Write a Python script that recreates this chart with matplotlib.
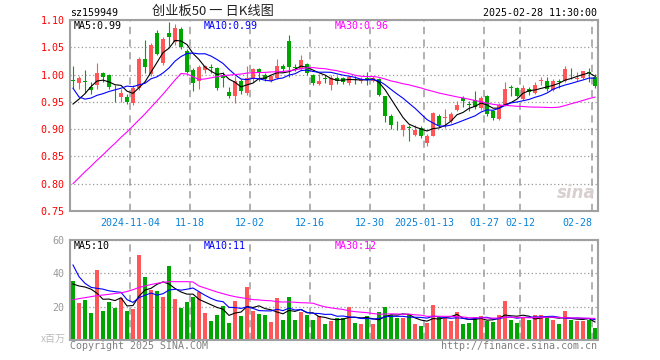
import numpy as np
import pandas as pd
import matplotlib
matplotlib.use('Agg')
import matplotlib.pyplot as plt

# ========== Данные ==========
open_ = [0.990, 0.984, 0.987, 0.978, 0.981, 1.002, 0.999, 0.961, 0.959, 0.958,
         0.948, 0.976, 1.028, 1.001, 1.077, 1.022, 1.076, 1.060, 1.083, 1.044,
         1.008, 0.988, 1.008, 1.013, 1.012, 1.000, 0.968, 0.960, 0.988, 0.966,
         0.991, 1.011, 1.000, 0.988, 0.994, 1.016, 1.062, 1.013, 1.011, 1.020,
         1.000, 0.983, 0.993, 0.980, 0.993, 0.993, 0.984, 0.991, 0.988, 0.993,
         0.989, 0.992, 0.960, 0.924, 0.906, 0.898, 0.903, 0.890, 0.902, 0.874,
         0.888, 0.925, 0.920, 0.915, 0.935, 0.957, 0.946, 0.954, 0.939, 0.960,
         0.934, 0.919, 0.945, 0.976, 0.975, 0.955, 0.974, 0.966, 0.988, 0.989,
         0.971, 0.988, 0.988, 1.005, 0.992, 0.993, 1.004, 0.995]
high = [1.016, 0.998, 1.008, 0.987, 1.022, 1.004, 1.001, 0.980, 0.974, 0.965,
        0.981, 1.033, 1.064, 1.058, 1.082, 1.068, 1.096, 1.093, 1.088, 1.047,
        1.012, 1.018, 1.018, 1.019, 1.014, 1.005, 0.978, 0.997, 0.992, 1.015,
        1.012, 1.012, 1.003, 0.999, 1.029, 1.019, 1.073, 1.019, 1.035, 1.022,
        1.001, 1.001, 1.000, 0.999, 0.998, 0.996, 0.998, 0.998, 0.995, 1.004,
        0.997, 0.993, 0.961, 0.928, 0.915, 0.909, 0.908, 0.907, 0.905, 0.891,
        0.932, 0.927, 0.936, 0.931, 0.952, 0.960, 0.952, 0.9695, 0.9615, 0.962,
        0.935, 0.9475, 0.986, 0.980, 0.977, 0.980, 0.978, 0.986, 0.996, 0.995,
        0.992, 0.992, 1.015, 1.012, 1.004, 1.007, 1.012, 1.001]
low = [0.975, 0.974, 0.966, 0.965, 0.974, 0.986, 0.974, 0.949, 0.949, 0.946,
       0.944, 0.972, 1.003, 0.998, 1.036, 1.018, 1.052, 1.055, 1.047, 1.003,
       0.970, 0.974, 1.003, 1.003, 0.972, 0.977, 0.957, 0.947, 0.964, 0.963,
       0.986, 0.989, 0.988, 0.986, 0.992, 1.006, 0.996, 1.007, 1.009, 0.999,
       0.980, 0.980, 0.985, 0.972, 0.983, 0.982, 0.980, 0.983, 0.984, 0.980,
       0.986, 0.960, 0.914, 0.901, 0.899, 0.887, 0.879, 0.887, 0.884, 0.870,
       0.887, 0.904, 0.902, 0.911, 0.934, 0.940, 0.933, 0.937, 0.935, 0.925,
       0.916, 0.917, 0.943, 0.9615, 0.958, 0.953, 0.962, 0.964, 0.981, 0.9695,
       0.970, 0.975, 0.986, 0.992, 0.988, 0.992, 0.987, 0.976]
close = [0.988, 0.993, 0.986, 0.972, 1.002, 0.996, 0.977, 0.960, 0.966, 0.949,
         0.976, 1.029, 1.013, 1.055, 1.038, 1.066, 1.069, 1.085, 1.050, 1.005,
         0.984, 1.014, 1.016, 1.012, 0.975, 0.994, 0.961, 0.988, 0.969, 0.994,
         1.010, 1.003, 0.991, 0.997, 1.015, 1.010, 1.014, 1.012, 1.027, 1.003,
         0.985, 0.989, 0.992, 0.994, 0.988, 0.986, 0.995, 0.990, 0.992, 0.990,
         0.993, 0.963, 0.924, 0.907, 0.905, 0.908, 0.902, 0.899, 0.887, 0.887,
         0.930, 0.908, 0.922, 0.927, 0.945, 0.951, 0.945, 0.941, 0.957, 0.928,
         0.921, 0.945, 0.974, 0.975, 0.960, 0.975, 0.968, 0.981, 0.989, 0.974,
         0.989, 0.987, 1.010, 1.004, 0.993, 1.006, 1.003, 0.979]
volume = [35.4, 22.4, 24.0, 16.4, 42.0, 17.4, 23.0, 19.4, 25.0, 17.4,
          18.6, 51.0, 38.0, 30.0, 29.4, 26.0, 44.6, 24.6, 19.4, 23.0,
          26.0, 29.0, 16.4, 11.4, 15.0, 20.6, 10.4, 23.4, 14.4, 31.8,
          17.4, 15.6, 15.0, 10.8, 25.2, 12.0, 25.8, 12.0, 16.8, 15.0,
          12.0, 14.4, 9.6, 11.6, 13.4, 13.4, 19.8, 10.2, 9.6, 14.4,
          9.6, 16.8, 19.8, 15.0, 13.4, 13.4, 15.0, 9.6, 8.4, 10.2,
          21.0, 13.8, 13.8, 11.4, 16.8, 9.6, 10.2, 13.8, 14.4, 11.4,
          10.8, 15.0, 23.4, 12.0, 10.2, 13.8, 12.0, 15.0, 15.0, 13.8,
          12.0, 9.6, 17.4, 12.0, 11.4, 11.4, 12.0, 7.2]

# начала скользящих средних (история до окна)
ma5_head = [0.946, 0.955, 0.965, 0.978]
ma10_head = [0.975, 0.959, 0.955, 0.957, 0.962, 0.965, 0.969, 0.972, 0.975]
ma30_head = [0.800, 0.811, 0.822, 0.832, 0.843, 0.853, 0.864, 0.874, 0.885, 0.895,
             0.906, 0.917, 0.928, 0.940, 0.952, 0.964, 0.977, 0.990, 1.002, 1.001,
             0.996, 0.991, 0.992, 0.994, 0.996, 0.998, 0.999, 1.000, 1.001]
vma5_head = [33.6, 32.4, 31.8, 30.5]
vma10_head = [45.0, 38.0, 34.0, 31.6, 31.0, 30.5, 29.5, 29.0, 28.6]
vma30_head = [24.2, 24.8, 25.4, 26.0, 26.6, 27.0, 27.4, 27.9, 28.3, 29.1,
              30.2, 31.5, 32.4, 33.3, 34.0, 34.6, 35.0, 35.0, 35.0, 35.0,
              34.8, 32.4, 31.2, 30.0, 28.8, 27.8, 26.8, 26.0, 25.4]

tick_idx = [10, 20, 30, 40, 50, 59, 69, 75, 87]
tick_labels = ['2024-11-04', '11-18', '12-02', '12-16', '12-30',
               '2025-01-13', '01-27', '02-12', '02-28']
price_legend = ['MA5:0.99', 'MA10:0.99', 'MA30:0.96']
vol_legend = ['MA5:10', 'MA10:11', 'MA30:12']

RED = '#ff5757'
GREEN = '#00a600'
MA_COLORS = ['black', '#0000ff', '#ff00ff']
MONO = 'DejaVu Sans Mono'
CJK = ['Noto Sans CJK SC', 'DejaVu Sans']


def moving(values, n, head):
    s = pd.Series(values).rolling(n).mean().values
    s[:len(head)] = head
    return s


o = np.array(open_)
c = np.array(close)
h = np.array(high)
l = np.array(low)
v = np.array(volume)
x = np.arange(len(c))
cols = np.where(c >= o, RED, GREEN)

W, H = 660, 360
fig = plt.figure(figsize=(W / 100, H / 100), dpi=100)


def box(left, top, right, bottom):
    return [left / W, 1 - bottom / H, (right - left) / W, (bottom - top) / H]


ax = fig.add_axes(box(70, 20, 598, 211))
axv = fig.add_axes(box(70, 240, 598, 340))

# ---- свечи ----
ax.vlines(x, l, h, colors=cols, linewidth=0.8, zorder=2)
ax.bar(x, np.maximum(np.abs(c - o), 0.0016), bottom=np.minimum(o, c),
       width=0.72, color=cols, linewidth=0, zorder=3)
for n, head, col in zip([5, 10, 30], [ma5_head, ma10_head, ma30_head], MA_COLORS):
    ax.plot(x, moving(c, n, head), color=col, linewidth=0.8, zorder=4)

# ---- объём ----
axv.bar(x, v, width=0.82, color=cols, linewidth=0, zorder=2)
for n, head, col in zip([5, 10, 30], [vma5_head, vma10_head, vma30_head], MA_COLORS):
    axv.plot(x, moving(v, n, head), color=col, linewidth=0.8, zorder=4)

grid_pos = [i - 0.5 for i in tick_idx]
for a in (ax, axv):
    a.set_xlim(-0.5, len(c) - 0.5)
    a.set_xticks(grid_pos)
    a.grid(axis='x', linestyle=(0, (4, 3)), color='#aaaaaa', linewidth=1.3, zorder=0)
    a.grid(axis='y', linestyle=(0, (1, 2)), color='#999999', linewidth=0.9, zorder=0)
    a.set_axisbelow(True)
    for sp in a.spines.values():
        sp.set_color('#a0a0a0')
        sp.set_linewidth(1.5)
    a.tick_params(length=0)

ax.set_ylim(0.75, 1.10)
yt = np.arange(0.75, 1.101, 0.05)
ax.set_yticks(yt, [f'{t:.2f}' for t in yt])
ax.tick_params(axis='y', labelcolor='#ff0000', pad=4)
ax.set_xticklabels(tick_labels)
ax.tick_params(axis='x', labelcolor='#0a82d8', pad=5)
for lab in ax.get_yticklabels() + ax.get_xticklabels():
    lab.set_fontfamily(MONO)
    lab.set_fontsize(7.2)
ax.get_xticklabels()[-1].set_horizontalalignment('right')

axv.set_ylim(0, 60)
axv.set_yticks([20, 40, 60], ['20', '40', '60'])
axv.tick_params(axis='y', labelcolor='#999999', pad=4)
axv.set_xticklabels([])
for lab in axv.get_yticklabels():
    lab.set_fontfamily(MONO)
    lab.set_fontsize(7.2)

# ---- подписи MA ----
for txt, xp, col in zip(price_legend, [0.0076, 0.2538, 0.502], MA_COLORS):
    ax.text(xp, 0.968, txt, transform=ax.transAxes, color=col,
            family=MONO, fontsize=7.2, va='center', ha='left', zorder=6)
for txt, xp, col in zip(vol_legend, [0.0076, 0.2538, 0.502], MA_COLORS):
    axv.text(xp, 0.94, txt, transform=axv.transAxes, color=col,
             family=MONO, fontsize=7.2, va='center', ha='left', zorder=6)

# водяной знак
ax.text(0.995, 0.045, 'sina', transform=ax.transAxes, ha='right', va='bottom',
        fontsize=12, fontstyle='italic', fontweight='bold', color='#d9cfcf', zorder=1)

# ---- заголовки и подвал ----
fig.text(70 / W, 1 - 13 / H, 'sz159949', family=MONO, fontsize=7.2,
         va='center', ha='left')
fig.text(213 / W, 1 - 11 / H, '创业板50 一 日K线图', family=CJK, fontsize=9.5,
         va='center', ha='center', color='#222222')
fig.text(597 / W, 1 - 13 / H, '2025-02-28 11:30:00', family=MONO, fontsize=7.2,
         va='center', ha='right')
fig.text(66 / W, 1 - 339 / H, 'x百万', family=CJK, fontsize=7.2,
         va='center', ha='right', color='#bbbbbb')
fig.text(70 / W, 1 - 346 / H, 'Copyright 2025 SINA.COM', family=MONO, fontsize=7.2,
         va='center', ha='left', color='#808080')
fig.text(597 / W, 1 - 346 / H, 'http://finance.sina.com.cn', family=MONO, fontsize=7.2,
         va='center', ha='right', color='#808080')

fig.savefig('out.png', dpi=100)
